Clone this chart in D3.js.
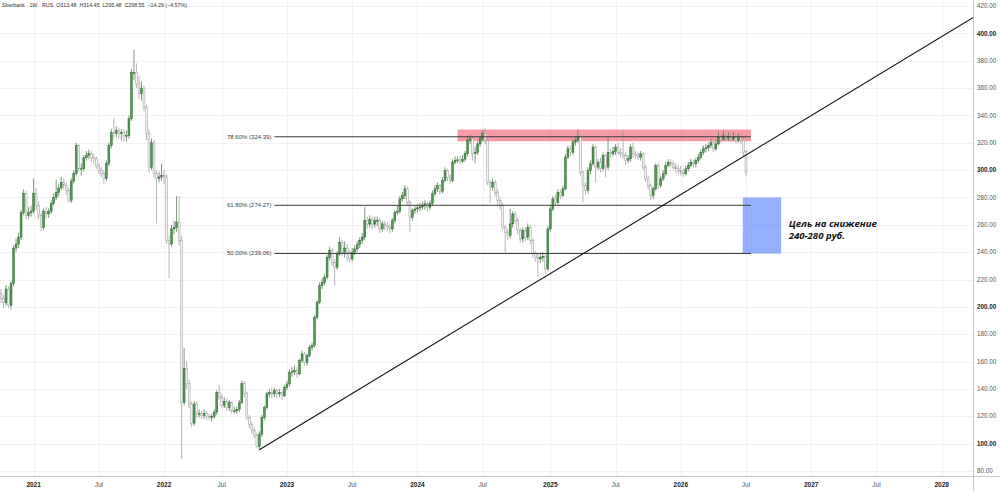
<!DOCTYPE html>
<html>
<head>
<meta charset="utf-8">
<script src="https://cdn.jsdelivr.net/npm/d3@7"></script>
<style>
html, body { margin: 0; padding: 0; background: #fff; }
svg { display: block; font-family: "Liberation Sans", Arial, sans-serif; }
</style>
</head>
<body>
<div id="chart"></div>
<script>
// weekly bars, Sberbank (RUS), 1W
const firstWeek = "2020-10-05";
const closedWeeks = ["2022-02-28", "2022-03-07", "2022-03-14"];
const firstOpen = 210;
const lastOpen = 313.48;

const close2020 = [206,203,213,201,217,243,246,251,269,283,267,269,270];
const high2020  = [213,209,216,215,219,245,250,254,271,286,285,273,274];
const low2020   = [203,199,201,199,198,215,240,243,249,267,264,264,266];

const close2021 = [283,274,267,258,270,268,270,275.6,280,283.6,287,291,289,285,277.8,292,297.5,318,301,301,309,310.6,312,309,308.5,303,300,297.5,294,305,318,327.5,326.8,329,326.8,327.5,325.3,325.3,337.7,371.4,371.4,363,356,360,346,327,302,320,297.5,294,295,296];
const high2021  = [294,287,277,269,272,273,272,278,283,293,290,295,294,291,287,294,300,320,319,305,311,314,315,314,312,310,305,302,300,307,320,330,338,332,331,330,330,329,340,374,388,378,369,365,362,348,330,323,322,300,299,305];
const low2021   = [268,271,264,255,256,265,265,268,274,278,281,285,286,282,276,276,290,296,299,296,299,307,308,306,305,301,297,295,290,292,303,316,323,324,323,322,321,321,323,336,366,360,352,351,343,322,298,300,294,261,291,292];

const close2022 = [295,248.5,246,257,258,262,248.5,130,155,144,129,115,129,122,122,120.6,122,120,119,120,123,137.5,134,128,131,126.5,130,124,124,125,130,144,136.6,119,114,109.5,106,98,107,119,126.6,136.4,137.5,136.4,138.8,136.4,137.5,135,141];
const high2022  = [300,297,252,260,263,281,281,252,170,160,147,131,131,131,125,124,125,124,122,122,125,139,143,136,134,133,132,131,127,127,132,146,146,138,121,116,112,108,109,121,128,138,140,141,141,140,140,139,143];
const low2022   = [290,246,221,244,253,255,245,89,128,140,126,112,113,119,119,118,118,117,117,116,118,121,132,126,126,124,124,122,122,122,123,129,134,117,111,107,104,97,95.6,105,117,125,134,133,134,133,134,132,134];

const close2023 = [143.7,152,152.5,153.4,151,160.7,165.6,159.5,164.4,170.4,171.7,192.4,203.4,215.6,218,221.7,236.3,241.2,232.6,229,238.8,247.3,240,243,240,235,240,242.4,245.5,248.7,251,263,260.5,264,260.5,263,263,257,260.7,259.5,258.3,257,263,269,270,279,281.4,286.3,276.5,265.5,270.4,271.6];
const high2023  = [146,154,156,157,156,162,168,167,166,172,174,194,205,218,221,224,238,244,243,235,241,251,249,248,246,242,243,245,248,251,254,273,266,267,266,266,266,265,263,263,262,261,265,271,274,281,284,289,288,278,272,274];
const low2023   = [139,142,149,150,148,150,159,157,157,163,168,170,191,202,213,216,220,234,230,215.6,227,237,237,236,233,232,233,238,240,243,246,249,257,258,257,258,259,254,255,256,255,254,255,261,267,268,277,279,274,254.6,263,268];

const close2024 = [272.4,273,274,275.3,272.9,275.8,282.7,286.3,288.7,284.6,292.4,299.7,294.8,292.4,305.8,307,307.5,306.5,308,312,321.7,322.9,312,313,319.2,322.9,326.6,321.7,291.2,287.6,291.2,283.8,277.8,274.1,258.2,254.6,252.2,260.7,268,263.1,255.8,249.7,255.8,251,258.2,248.5,238.8,236.3,235.1,236.3,236.8,227.8,257];
const high2024  = [275,276,277,278,277,278,285,289,291,290,295,302,301,297,308,310,310,310,311,314,324,326,325,317,321,325,329,330.5,323,293,294,293,286,280,276,260,257,271.8,270,270,265,258,258,258,261,260,250,241,239,239,240,239,259];
const low2024   = [269,270,271,271,270,271,274,281,284,282,283,291,292,290,291,304,305,304,305,306,310,319,307,305,311,317,321,319,289,276,285,281,275,271,256,240,249,250,258,261,253,247,247,248,249,246,236,233,221.7,232,233,224,226];

const close2025 = [271.6,279,276.5,283.8,281.4,286.3,309.5,315.6,313,320.5,321.7,324.6,298.5,288.7,285,299.7,304.6,316.8,302.2,305.8,301,310.7,302.2,313,311.9,313.8,316.8,313,311.9,310.7,307,308.3,316.8,311.9,310.7,309.5,311.9,302.2,293.6,288.7,281.4,286.3,303.4,288.7,293.6,297.3,303.4,305.8,304.6,302.2,301,299.7];
const high2025  = [274,281,282,286,286,289,312,318,318,323,325,329.5,326,300,291,302,307,319,318,308,309,313,312,324,316,317,319,320,316,329.5,313,311,319,320,314,313,314,313,304,296,290,288,305,305,296,300,306,308,308,307,305,304];
const low2025   = [255,270,274,275,279,280,285,308,310,311,318,320,296,276.5,282,283,297,303,291,300,298,299,294.8,300,309,310,311,311,309,308,304,305,306,309,308,307,307,300,291,286,277.8,279,285,286,287,292,296,302,302,300,298,297];

const close2026 = [298.5,297.3,301,303.4,305.8,304.6,307,309.5,313,315.6,316.3,318,320.4,315.6,319.2,324.1,322.5,325,323.5,324.5,322.8,324,321.8,323.5,322,312.84,298.55];
const high2026  = [303,301,303,306,308,308,309,312,315,318,319,320,323,322,322,328,327,329,328,328,327,328,326,327,326,324,314.45];
const low2026   = [296,295,296,299,302,302,302,305,308,311,313,314,316,313,314,318,320,321,321,321,320,321,319,320,319,310,295.48];

// drawings (bar index, price)
const fibLevels = [0.786, 0.618, 0.5];
const fibPrices = [324.39, 274.27, 239.06];
const fibSpan = [109, 299];
const resistZone = [182, 299, 329.7, 321.1];
const targetZone = [295.7, 311, 280, 239];
const trendPoints = [[103, 95.6], [388, 412]];
const noteAt = [314, 258];
const noteLines = ["Цель на снижение", "240-280 руб."];

const priceTicks = d3.range(80, 421, 20);
const timeLabels = ["2021","Jul","2022","Jul","2023","Jul","2024","Jul","2025","Jul","2026","Jul","2027","Jul","2028"];
const timeDates = ["2021-01-04","2021-07-05","2022-01-03","2022-07-04","2023-01-02","2023-07-03","2024-01-01","2024-07-01","2025-01-06","2025-07-07","2026-01-05","2026-07-06","2027-01-04","2027-07-05","2028-01-03"];

const header = "Sberbank · 1W · RUS  O313.48  H314.45  L295.48  C298.55  −14.29 (−4.57%)";

const width = 1000, height = 491;
const plotRight = 973, plotBottom = 476;

const closes = [].concat(close2020, close2021, close2022, close2023, close2024, close2025, close2026);
const highs = [].concat(high2020, high2021, high2022, high2023, high2024, high2025, high2026);
const lows = [].concat(low2020, low2021, low2022, low2023, low2024, low2025, low2026);

const parse = d3.utcParse("%Y-%m-%d");
const fmt = d3.utcFormat("%Y-%m-%d");
const skip = new Set(closedWeeks);
const dates = [];
let cur = parse(firstWeek);
while (dates.length < closes.length) {
  if (!skip.has(fmt(cur))) dates.push(cur);
  cur = d3.utcDay.offset(cur, 7);
}

const bars = closes.map((c, i) => {
  const o = i === 0 ? firstOpen : (i === closes.length - 1 ? lastOpen : closes[i - 1]);
  return {
    i, date: dates[i], open: o, close: c,
    high: Math.max(highs[i], o, c),
    low: Math.min(lows[i], o, c)
  };
});

const x = d3.scaleLinear().domain([0, bars.length - 1]).range([1, 746]);
const y = d3.scaleLinear().domain([80, 420]).range([471, 6]);

const lastDate = dates[dates.length - 1];
const tickIndex = s => {
  const dt = parse(s);
  const k = dates.findIndex(d => +d === +dt);
  if (k >= 0) return k;
  return bars.length - 1 + Math.round((dt - lastDate) / (7 * 864e5));
};
const ticks = timeLabels.map((t, k) => ({label: t, idx: tickIndex(timeDates[k])}));

const svg = d3.select("#chart")
  .append("svg")
  .attr("width", width)
  .attr("height", height)
  .attr("viewBox", [0, 0, width, height]);

svg.append("rect").attr("width", width).attr("height", height).attr("fill", "#fff");

svg.append("defs").append("clipPath").attr("id", "plot")
  .append("rect").attr("width", plotRight).attr("height", plotBottom);

// grid
const grid = svg.append("g").attr("stroke", "#f1f1f1").attr("stroke-width", 1);
grid.selectAll(".gx")
  .data(ticks)
  .join("line")
  .attr("x1", d => Math.round(x(d.idx)) + 0.5)
  .attr("x2", d => Math.round(x(d.idx)) + 0.5)
  .attr("y1", 0)
  .attr("y2", plotBottom);
grid.selectAll(".gy")
  .data(priceTicks)
  .join("line")
  .attr("x1", 0)
  .attr("x2", plotRight)
  .attr("y1", d => Math.round(y(d)) + 0.5)
  .attr("y2", d => Math.round(y(d)) + 0.5);

const plot = svg.append("g").attr("clip-path", "url(#plot)");

// resistance zone
plot.append("rect")
  .attr("x", x(resistZone[0]))
  .attr("width", x(resistZone[1]) - x(resistZone[0]))
  .attr("y", y(resistZone[2]))
  .attr("height", y(resistZone[3]) - y(resistZone[2]))
  .attr("fill", "rgba(242,73,92,0.55)");

// candles
const candles = plot.append("g")
  .selectAll("g")
  .data(bars)
  .join("g");

candles.append("line")
  .attr("x1", d => x(d.i))
  .attr("x2", d => x(d.i))
  .attr("y1", d => y(d.high))
  .attr("y2", d => y(d.low))
  .attr("stroke", d => d.close >= d.open ? "#5d7f5d" : "#a3a3a3")
  .attr("stroke-width", 0.8);

candles.append("rect")
  .attr("x", d => x(d.i) - 0.95)
  .attr("width", 1.9)
  .attr("y", d => y(Math.max(d.open, d.close)))
  .attr("height", d => Math.max(0.8, Math.abs(y(d.open) - y(d.close))))
  .attr("fill", d => d.close >= d.open ? "#4f9a4f" : "#f3f3f3")
  .attr("stroke", d => d.close >= d.open ? "#2f6a2f" : "#9c9c9c")
  .attr("stroke-width", 0.5);

// target zone
plot.append("rect")
  .attr("x", x(targetZone[0]))
  .attr("width", x(targetZone[1]) - x(targetZone[0]))
  .attr("y", y(targetZone[2]))
  .attr("height", y(targetZone[3]) - y(targetZone[2]))
  .attr("fill", "rgba(41,98,255,0.5)");

// fibonacci levels
plot.append("g")
  .selectAll("line")
  .data(fibPrices)
  .join("line")
  .attr("x1", x(fibSpan[0]))
  .attr("x2", x(fibSpan[1]))
  .attr("y1", d => y(d))
  .attr("y2", d => y(d))
  .attr("stroke", "#3a3a3a")
  .attr("stroke-width", 1);

svg.append("g")
  .selectAll("text")
  .data(fibPrices)
  .join("text")
  .attr("x", x(fibSpan[0]) - 3)
  .attr("y", d => y(d) + 2)
  .attr("text-anchor", "end")
  .attr("font-size", 6)
  .attr("fill", "#3a3a3a")
  .text((d, k) => `${(fibLevels[k] * 100).toFixed(2)}% (${d.toFixed(2)})`);

// trend line
plot.append("line")
  .attr("x1", x(trendPoints[0][0]))
  .attr("y1", y(trendPoints[0][1]))
  .attr("x2", x(trendPoints[1][0]))
  .attr("y2", y(trendPoints[1][1]))
  .attr("stroke", "#111")
  .attr("stroke-width", 1.1);

// note
svg.append("g")
  .selectAll("text")
  .data(noteLines)
  .join("text")
  .attr("x", x(noteAt[0]))
  .attr("y", (d, k) => y(noteAt[1]) - 1 + k * 12)
  .attr("font-family", "'Open Sans', sans-serif")
  .attr("font-size", 9.6)
  .attr("font-weight", "bold")
  .attr("font-style", "italic")
  .attr("fill", "#111")
  .text(d => d);

// axes
svg.append("line")
  .attr("x1", plotRight + 0.5).attr("x2", plotRight + 0.5)
  .attr("y1", 0).attr("y2", height)
  .attr("stroke", "#c8c8c8");
svg.append("line")
  .attr("x1", 0).attr("x2", width)
  .attr("y1", plotBottom + 0.5).attr("y2", plotBottom + 0.5)
  .attr("stroke", "#c8c8c8");

svg.append("g")
  .selectAll("text")
  .data(priceTicks)
  .join("text")
  .attr("x", plotRight + 4)
  .attr("y", d => y(d) + 2.2)
  .attr("font-size", 6.3)
  .attr("font-weight", d => d % 100 === 0 ? "bold" : "normal")
  .attr("fill", d => d % 100 === 0 ? "#222" : "#555")
  .text(d => d.toFixed(2));

svg.append("g")
  .selectAll("text")
  .data(ticks)
  .join("text")
  .attr("x", d => x(d.idx))
  .attr("y", 487)
  .attr("text-anchor", "middle")
  .attr("font-size", 6.5)
  .attr("font-weight", d => d.label === "Jul" ? "normal" : "bold")
  .attr("fill", d => d.label === "Jul" ? "#555" : "#222")
  .text(d => d.label);

svg.append("text")
  .attr("x", 2)
  .attr("y", 7)
  .attr("font-size", 5.3)
  .attr("fill", "#333")
  .attr("xml:space", "preserve")
  .text(header);
</script>
</body>
</html>
